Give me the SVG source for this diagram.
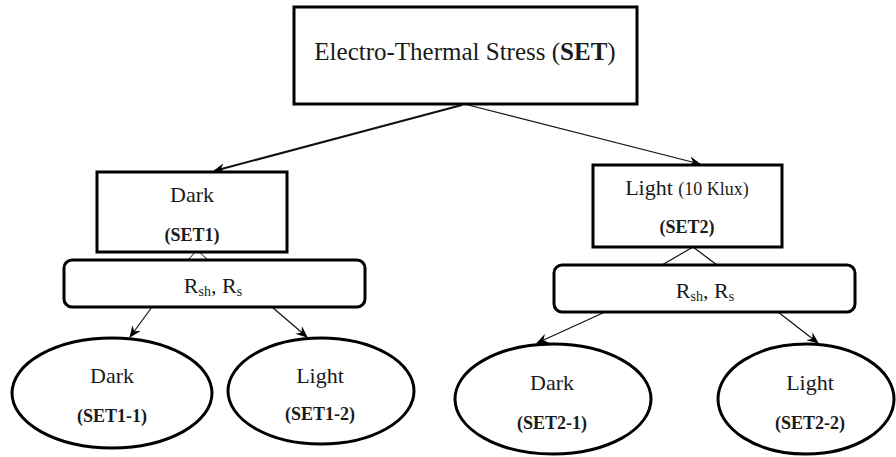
<svg xmlns="http://www.w3.org/2000/svg" width="896" height="457" viewBox="0 0 896 457">
<defs>
<style>
.box{fill:#fff;stroke:#000;stroke-width:3}
text{font-family:'Liberation Serif',serif;fill:#1a1a1a;text-anchor:middle}
.b{font-weight:bold}
.c{stroke:#111;fill:none}
</style>
<marker id="ah" viewBox="0 0 12 10" refX="11" refY="5" markerWidth="12" markerHeight="10" markerUnits="userSpaceOnUse" orient="auto">
<path d="M0,0 L12,5 L0,10 L4,5 z" fill="#000"/>
</marker>
</defs>
<rect width="896" height="457" fill="#fff"/>
<g id="connectors">
<line class="c" x1="462" y1="105" x2="214" y2="171" stroke-width="2" marker-end="url(#ah)"/>
<line class="c" x1="468" y1="105" x2="700" y2="164" stroke-width="1.2" marker-end="url(#ah)"/>
<polyline class="c" points="188,260 197,250 208,260" stroke-width="1"/>
<polyline class="c" points="662,265 693,247 717,265" stroke-width="1.2"/>
<line class="c" x1="152" y1="307" x2="130" y2="337" stroke-width="1.2" marker-end="url(#ah)"/>
<line class="c" x1="272" y1="307" x2="307" y2="337" stroke-width="1.2" marker-end="url(#ah)"/>
<line class="c" x1="605" y1="312" x2="537" y2="343" stroke-width="1.2" marker-end="url(#ah)"/>
<line class="c" x1="778" y1="312" x2="818" y2="343" stroke-width="1.2" marker-end="url(#ah)"/>
</g>
<g id="set">
<rect class="box" x="294" y="7" width="343" height="97"/>
<text x="465" y="60" font-size="25">Electro-Thermal Stress (<tspan class="b">SET</tspan>)</text>
</g>
<g id="set1">
<rect class="box" x="97" y="172" width="190" height="80"/>
<text x="192" y="202" font-size="22">Dark</text>
<text class="b" x="192" y="241" font-size="18">(SET1)</text>
</g>
<g id="rs1">
<rect class="box" x="64" y="260" width="301" height="47" rx="8"/>
<text x="213" y="293" font-size="22">R<tspan font-size="14" dy="3">sh</tspan><tspan dy="-3">, R</tspan><tspan font-size="14" dy="3">s</tspan></text>
</g>
<g id="set2">
<rect class="box" x="593" y="165" width="189" height="82"/>
<text x="687" y="195" font-size="22">Light <tspan font-size="18">(10 Klux)</tspan></text>
<text class="b" x="687" y="233" font-size="18">(SET2)</text>
</g>
<g id="rs2">
<rect class="box" x="554" y="265" width="301" height="47" rx="8"/>
<text x="705" y="298" font-size="22">R<tspan font-size="14" dy="3">sh</tspan><tspan dy="-3">, R</tspan><tspan font-size="14" dy="3">s</tspan></text>
</g>
<g id="set1-1">
<ellipse class="box" cx="112" cy="393" rx="100" ry="55"/>
<text x="112" y="383" font-size="22">Dark</text>
<text class="b" x="112" y="422" font-size="18">(SET1-1)</text>
</g>
<g id="set1-2">
<ellipse class="box" cx="321" cy="391" rx="93" ry="53"/>
<text x="320" y="383" font-size="22">Light</text>
<text class="b" x="320" y="420" font-size="18">(SET1-2)</text>
</g>
<g id="set2-1">
<ellipse class="box" cx="553" cy="399" rx="98" ry="55"/>
<text x="552" y="390" font-size="22">Dark</text>
<text class="b" x="552" y="429" font-size="18">(SET2-1)</text>
</g>
<g id="set2-2">
<ellipse class="box" cx="806" cy="399" rx="88" ry="55"/>
<text x="810" y="390" font-size="22">Light</text>
<text class="b" x="810" y="429" font-size="18">(SET2-2)</text>
</g>
</svg>
